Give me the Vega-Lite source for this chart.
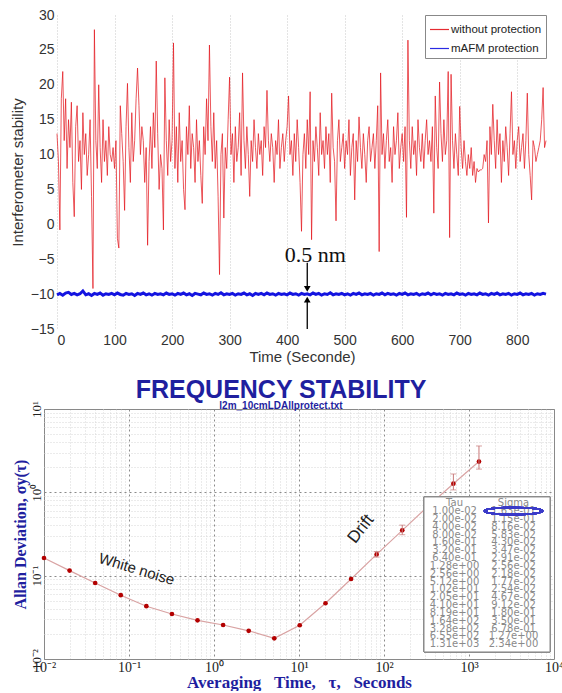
{
"$schema": "https://vega.github.io/schema/vega-lite/v6.json",
"padding": {"left": 10, "top": 8, "right": 0, "bottom": 0},
"background": "white",
"spacing": 13,
"resolve": {"scale": {"color": "independent"}, "legend": {"color": "independent"}},
"config": {
  "view": {"stroke": "#888"},
  "font": "Liberation Sans",
  "axis": {"labelOverlap": false}
},
"datasets": {
"red": [
{"t":0,"v":13},{"t":2.5,"v":9},{"t":5,"v":-0.8},{"t":7.5,"v":18},{"t":10,"v":21.9},{"t":12.5,"v":12},{"t":15,"v":18},{"t":17.5,"v":8},{"t":20,"v":15},{"t":22.5,"v":11},{"t":25,"v":17.5},{"t":27.5,"v":6},{"t":30,"v":1.1},{"t":32.5,"v":14},{"t":35,"v":17},{"t":37.5,"v":9},{"t":40,"v":12},{"t":42.5,"v":5},{"t":45,"v":16},{"t":47.5,"v":10},
{"t":50,"v":13},{"t":52.5,"v":7},{"t":55,"v":10},{"t":57.5,"v":15},{"t":60,"v":4},{"t":62.5,"v":-9.2},{"t":65,"v":27.9},{"t":67.5,"v":12},{"t":70,"v":8},{"t":72.5,"v":20},{"t":75,"v":11},{"t":77.5,"v":6},{"t":80,"v":15},{"t":82.5,"v":9},{"t":85,"v":12},{"t":87.5,"v":7},{"t":90,"v":14},{"t":92.5,"v":10},{"t":95,"v":9},{"t":97.5,"v":11},
{"t":100,"v":8},{"t":102.5,"v":12},{"t":105,"v":-2},{"t":107.5,"v":-3.4},{"t":110,"v":17},{"t":112.5,"v":13},{"t":115,"v":9},{"t":117.5,"v":2},{"t":120,"v":14},{"t":122.5,"v":20.2},{"t":125,"v":11},{"t":127.5,"v":6},{"t":130,"v":16},{"t":132.5,"v":9},{"t":135,"v":12},{"t":137.5,"v":18},{"t":140,"v":22.4},{"t":142.5,"v":17},{"t":145,"v":10},{"t":147.5,"v":14},
{"t":150,"v":12},{"t":152.5,"v":6},{"t":155,"v":11},{"t":157.5,"v":-3},{"t":160,"v":9},{"t":162.5,"v":14},{"t":165,"v":8},{"t":167.5,"v":16},{"t":170,"v":11},{"t":172.5,"v":23.4},{"t":175,"v":13},{"t":177.5,"v":5},{"t":180,"v":10},{"t":182.5,"v":8},{"t":185,"v":-0.8},{"t":187.5,"v":21},{"t":190,"v":12},{"t":192.5,"v":7},{"t":195,"v":15},{"t":197.5,"v":9},
{"t":200,"v":12},{"t":202.5,"v":26},{"t":205,"v":8},{"t":207.5,"v":14},{"t":210,"v":6},{"t":212.5,"v":16},{"t":215,"v":9},{"t":217.5,"v":12},{"t":220,"v":5},{"t":222.5,"v":2.1},{"t":225,"v":14},{"t":227.5,"v":10},{"t":230,"v":17},{"t":232.5,"v":8},{"t":235,"v":13},{"t":237.5,"v":11},{"t":240,"v":6},{"t":242.5,"v":15},{"t":245,"v":9},{"t":247.5,"v":12},
{"t":250,"v":7},{"t":252.5,"v":3},{"t":255,"v":14},{"t":257.5,"v":10},{"t":260,"v":18},{"t":262.5,"v":12},{"t":265,"v":25.7},{"t":267.5,"v":14},{"t":270,"v":9},{"t":272.5,"v":16},{"t":275,"v":8},{"t":277.5,"v":12},{"t":280,"v":4},{"t":282.5,"v":-7.2},{"t":285,"v":10},{"t":287.5,"v":13},{"t":290,"v":0.9},{"t":292.5,"v":11},{"t":295,"v":8},{"t":297.5,"v":15},
{"t":300,"v":21.1},{"t":302.5,"v":10},{"t":305,"v":13},{"t":307.5,"v":6},{"t":310,"v":14},{"t":312.5,"v":9},{"t":315,"v":11},{"t":317.5,"v":16},{"t":320,"v":7},{"t":322.5,"v":21.7},{"t":325,"v":12},{"t":327.5,"v":8},{"t":330,"v":14},{"t":332.5,"v":10},{"t":335,"v":4},{"t":337.5,"v":12},{"t":340,"v":9},{"t":342.5,"v":15},{"t":345,"v":11},{"t":347.5,"v":8},
{"t":350,"v":13},{"t":352.5,"v":10},{"t":355,"v":12},{"t":357.5,"v":7},{"t":360,"v":14},{"t":362.5,"v":11},{"t":365,"v":19.2},{"t":367.5,"v":12},{"t":370,"v":9},{"t":372.5,"v":13},{"t":375,"v":11},{"t":377.5,"v":6},{"t":380,"v":12},{"t":382.5,"v":10},{"t":385,"v":15},{"t":387.5,"v":8},{"t":390,"v":11},{"t":392.5,"v":13},{"t":395,"v":9},{"t":397.5,"v":12},
{"t":400,"v":14},{"t":402.5,"v":18.4},{"t":405,"v":10},{"t":407.5,"v":12},{"t":410,"v":7},{"t":412.5,"v":13},{"t":415,"v":9},{"t":417.5,"v":15},{"t":420,"v":11},{"t":422.5,"v":6},{"t":425,"v":-1},{"t":427.5,"v":10},{"t":430,"v":13},{"t":432.5,"v":8},{"t":435,"v":15},{"t":437.5,"v":10},{"t":440,"v":19},{"t":442.5,"v":-2.2},{"t":445,"v":12},{"t":447.5,"v":9},
{"t":450,"v":14},{"t":452.5,"v":11},{"t":455,"v":7},{"t":457.5,"v":16},{"t":460,"v":10},{"t":462.5,"v":12},{"t":465,"v":8},{"t":467.5,"v":14},{"t":470,"v":10},{"t":472.5,"v":13},{"t":475,"v":6},{"t":477.5,"v":18.8},{"t":480,"v":11},{"t":482.5,"v":9},{"t":485,"v":0.5},{"t":487.5,"v":12},{"t":490,"v":15},{"t":492.5,"v":9},{"t":495,"v":11},{"t":497.5,"v":13},
{"t":500,"v":8},{"t":502.5,"v":12},{"t":505,"v":10},{"t":507.5,"v":15},{"t":510,"v":7},{"t":512.5,"v":11},{"t":515,"v":13},{"t":517.5,"v":3.5},{"t":520,"v":12},{"t":522.5,"v":9},{"t":525,"v":15.4},{"t":527.5,"v":11},{"t":530,"v":8},{"t":532.5,"v":13},{"t":535,"v":10},{"t":537.5,"v":6},{"t":540,"v":12},{"t":542.5,"v":14},{"t":545,"v":9},{"t":547.5,"v":11},
{"t":550,"v":13},{"t":552.5,"v":8},{"t":555,"v":12},{"t":557.5,"v":17},{"t":560,"v":-3.9},{"t":562.5,"v":21.7},{"t":565,"v":10},{"t":567.5,"v":13},{"t":570,"v":8},{"t":572.5,"v":12},{"t":575,"v":15},{"t":577.5,"v":9},{"t":580,"v":11},{"t":582.5,"v":6},{"t":585,"v":14},{"t":587.5,"v":10},{"t":590,"v":12},{"t":592.5,"v":16},{"t":595,"v":8},{"t":597.5,"v":11},
{"t":600,"v":13},{"t":602.5,"v":9},{"t":605,"v":14},{"t":607.5,"v":1},{"t":610,"v":26.4},{"t":612.5,"v":12},{"t":615,"v":8},{"t":617.5,"v":14},{"t":620,"v":10},{"t":622.5,"v":12},{"t":625,"v":7},{"t":627.5,"v":15},{"t":630,"v":11},{"t":632.5,"v":9},{"t":635,"v":13},{"t":637.5,"v":8},{"t":640,"v":12},{"t":642.5,"v":15},{"t":645,"v":10},{"t":647.5,"v":12},
{"t":650,"v":9},{"t":652.5,"v":14},{"t":655,"v":1.6},{"t":657.5,"v":18.4},{"t":660,"v":11},{"t":662.5,"v":8},{"t":665,"v":20.4},{"t":667.5,"v":13},{"t":670,"v":9},{"t":672.5,"v":15},{"t":675,"v":10},{"t":677.5,"v":12},{"t":680,"v":21.9},{"t":682.5,"v":-1.9},{"t":685,"v":21.5},{"t":687.5,"v":12},{"t":690,"v":8},{"t":692.5,"v":13},{"t":695,"v":10},{"t":697.5,"v":7},
{"t":700,"v":16.9},{"t":702.5,"v":11},{"t":705,"v":8},{"t":707.5,"v":12},{"t":710,"v":9},{"t":712.5,"v":7},{"t":715,"v":10},{"t":717.5,"v":8},{"t":720,"v":11},{"t":722.5,"v":7},{"t":725,"v":9},{"t":727.5,"v":6},{"t":730,"v":8},{"t":732.5,"v":7.5},{"t":735,"v":7.8},{"t":737.5,"v":7.8},{"t":740,"v":8},{"t":742.5,"v":10},{"t":745,"v":9},{"t":747.5,"v":12},
{"t":750,"v":0.2},{"t":752.5,"v":14},{"t":755,"v":10},{"t":757.5,"v":17.2},{"t":760,"v":12},{"t":762.5,"v":8},{"t":765,"v":15},{"t":767.5,"v":10},{"t":770,"v":13},{"t":772.5,"v":6},{"t":775,"v":12},{"t":777.5,"v":9},{"t":780,"v":14},{"t":782.5,"v":11},{"t":785,"v":7},{"t":787.5,"v":13},{"t":790,"v":19},{"t":792.5,"v":10},{"t":795,"v":12},{"t":797.5,"v":8},
{"t":800,"v":12},{"t":802.5,"v":14},{"t":805,"v":9},{"t":807.5,"v":11},{"t":810,"v":13},{"t":812.5,"v":8},{"t":815,"v":12},{"t":817.5,"v":18.8},{"t":820,"v":10},{"t":822.5,"v":7},{"t":825,"v":3.5},{"t":827.5,"v":12},{"t":830,"v":11},{"t":832.5,"v":9},{"t":835,"v":10},{"t":837.5,"v":11},{"t":840,"v":12},{"t":842.5,"v":15},{"t":845,"v":19.6},{"t":847.5,"v":11},{"t":850,"v":12}
],
"blue": [
{"t":0,"v":-10.1},{"t":5,"v":-9.9},{"t":10,"v":-10.15},{"t":15,"v":-9.85},{"t":20,"v":-9.75},{"t":25,"v":-10.05},{"t":30,"v":-9.9},{"t":35,"v":-10.1},{"t":40,"v":-9.95},{"t":45,"v":-9.55},{"t":50,"v":-10.1},{"t":55,"v":-9.95},{"t":60,"v":-10.2},{"t":65,"v":-9.9},{"t":70,"v":-10.05},{"t":75,"v":-9.85},{"t":80,"v":-10.15},{"t":85,"v":-9.95},{"t":90,"v":-10.05},{"t":95,"v":-9.9},
{"t":100,"v":-10.1},{"t":105,"v":-9.85},{"t":110,"v":-10.05},{"t":115,"v":-10.15},{"t":120,"v":-9.9},{"t":125,"v":-10.05},{"t":130,"v":-9.95},{"t":135,"v":-10.2},{"t":140,"v":-9.9},{"t":145,"v":-10.05},{"t":150,"v":-9.85},{"t":155,"v":-10.1},{"t":160,"v":-9.95},{"t":165,"v":-10.15},{"t":170,"v":-9.9},{"t":175,"v":-10.05},{"t":180,"v":-9.95},{"t":185,"v":-10.1},{"t":190,"v":-9.85},{"t":195,"v":-10.05},
{"t":200,"v":-9.95},{"t":205,"v":-10.15},{"t":210,"v":-9.9},{"t":215,"v":-10.05},{"t":220,"v":-9.85},{"t":225,"v":-10.1},{"t":230,"v":-9.95},{"t":235,"v":-10.2},{"t":240,"v":-9.9},{"t":245,"v":-10.0},{"t":250,"v":-10.1},{"t":255,"v":-9.85},{"t":260,"v":-10.05},{"t":265,"v":-9.95},{"t":270,"v":-10.15},{"t":275,"v":-9.9},{"t":280,"v":-10.05},{"t":285,"v":-9.8},{"t":290,"v":-10.1},{"t":295,"v":-9.95},
{"t":300,"v":-10.05},{"t":305,"v":-9.9},{"t":310,"v":-10.15},{"t":315,"v":-9.95},{"t":320,"v":-10.05},{"t":325,"v":-9.85},{"t":330,"v":-10.1},{"t":335,"v":-9.95},{"t":340,"v":-10.2},{"t":345,"v":-9.9},{"t":350,"v":-10.05},{"t":355,"v":-9.9},{"t":360,"v":-10.1},{"t":365,"v":-9.85},{"t":370,"v":-10.05},{"t":375,"v":-9.95},{"t":380,"v":-10.15},{"t":385,"v":-9.9},{"t":390,"v":-10.05},{"t":395,"v":-9.95},
{"t":400,"v":-10.1},{"t":405,"v":-9.85},{"t":410,"v":-10.05},{"t":415,"v":-9.95},{"t":420,"v":-10.15},{"t":425,"v":-9.9},{"t":430,"v":-10.05},{"t":435,"v":-9.95},{"t":440,"v":-10.1},{"t":445,"v":-9.85},{"t":450,"v":-10.05},{"t":455,"v":-9.9},{"t":460,"v":-10.15},{"t":465,"v":-9.95},{"t":470,"v":-10.05},{"t":475,"v":-9.8},{"t":480,"v":-10.1},{"t":485,"v":-9.95},{"t":490,"v":-10.05},{"t":495,"v":-9.9},
{"t":500,"v":-10.1},{"t":505,"v":-9.95},{"t":510,"v":-10.15},{"t":515,"v":-9.9},{"t":520,"v":-10.05},{"t":525,"v":-9.85},{"t":530,"v":-10.1},{"t":535,"v":-9.95},{"t":540,"v":-10.05},{"t":545,"v":-9.9},{"t":550,"v":-10.15},{"t":555,"v":-9.95},{"t":560,"v":-10.05},{"t":565,"v":-9.85},{"t":570,"v":-10.1},{"t":575,"v":-9.9},{"t":580,"v":-10.05},{"t":585,"v":-9.95},{"t":590,"v":-10.15},{"t":595,"v":-9.9},
{"t":600,"v":-10.05},{"t":605,"v":-9.85},{"t":610,"v":-10.1},{"t":615,"v":-9.95},{"t":620,"v":-10.05},{"t":625,"v":-9.9},{"t":630,"v":-10.15},{"t":635,"v":-9.95},{"t":640,"v":-10.05},{"t":645,"v":-9.85},{"t":650,"v":-10.1},{"t":655,"v":-9.9},{"t":660,"v":-10.05},{"t":665,"v":-9.95},{"t":670,"v":-10.15},{"t":675,"v":-9.9},{"t":680,"v":-10.05},{"t":685,"v":-9.95},{"t":690,"v":-10.1},{"t":695,"v":-9.85},
{"t":700,"v":-10.05},{"t":705,"v":-9.95},{"t":710,"v":-10.15},{"t":715,"v":-9.9},{"t":720,"v":-10.05},{"t":725,"v":-9.95},{"t":730,"v":-10.1},{"t":735,"v":-9.85},{"t":740,"v":-10.05},{"t":745,"v":-9.95},{"t":750,"v":-10.15},{"t":755,"v":-9.9},{"t":760,"v":-10.05},{"t":765,"v":-9.85},{"t":770,"v":-10.1},{"t":775,"v":-9.95},{"t":780,"v":-10.05},{"t":785,"v":-9.9},{"t":790,"v":-10.15},{"t":795,"v":-9.95},
{"t":800,"v":-10.05},{"t":805,"v":-9.85},{"t":810,"v":-10.1},{"t":815,"v":-9.95},{"t":820,"v":-10.05},{"t":825,"v":-9.9},{"t":830,"v":-10.15},{"t":835,"v":-9.95},{"t":840,"v":-10.05},{"t":845,"v":-9.9},{"t":850,"v":-10.0}
],
"allan": [
{"tau":0.01,"sigma":0.163},{"tau":0.02,"sigma":0.115},{"tau":0.04,"sigma":0.0816},{"tau":0.08,"sigma":0.0583},{"tau":0.16,"sigma":0.043},{"tau":0.32,"sigma":0.0347},{"tau":0.64,"sigma":0.0291},{"tau":1.28,"sigma":0.0256},{"tau":2.56,"sigma":0.0218},{"tau":5.12,"sigma":0.0177},{"tau":10.2,"sigma":0.0254},{"tau":20.5,"sigma":0.0467},{"tau":41,"sigma":0.0912},{"tau":81.9,"sigma":0.18},{"tau":164,"sigma":0.35},{"tau":328,"sigma":0.678},{"tau":655,"sigma":1.27},{"tau":1310,"sigma":2.34}
],
"errs": [
{"tau":81.9,"lo":0.167,"hi":0.195},{"tau":164,"lo":0.31,"hi":0.404},{"tau":328,"lo":0.6,"hi":0.77},{"tau":655,"lo":1.07,"hi":1.66},{"tau":1310,"lo":1.9,"hi":3.6}
],
"table": [
{"r":-1,"tau":"Tau","sig":"Sigma"},
{"r":0,"tau":"1.00e-02","sig":"1.63e-01"},{"r":1,"tau":"2.00e-02","sig":"1.15e-01"},{"r":2,"tau":"4.00e-02","sig":"8.16e-02"},{"r":3,"tau":"8.00e-02","sig":"5.83e-02"},{"r":4,"tau":"1.60e-01","sig":"4.30e-02"},{"r":5,"tau":"3.20e-01","sig":"3.47e-02"},{"r":6,"tau":"6.40e-01","sig":"2.91e-02"},{"r":7,"tau":"1.28e+00","sig":"2.56e-02"},{"r":8,"tau":"2.56e+00","sig":"2.18e-02"},{"r":9,"tau":"5.12e+00","sig":"1.77e-02"},{"r":10,"tau":"1.02e+01","sig":"2.54e-02"},{"r":11,"tau":"2.05e+01","sig":"4.67e-02"},{"r":12,"tau":"4.10e+01","sig":"9.12e-02"},{"r":13,"tau":"8.19e+01","sig":"1.80e-01"},{"r":14,"tau":"1.64e+02","sig":"3.50e-01"},{"r":15,"tau":"3.28e+02","sig":"6.78e-01"},{"r":16,"tau":"6.55e+02","sig":"1.27e+00"},{"r":17,"tau":"1.31e+03","sig":"2.34e+00"}
]
},
"vconcat": [
{
  "width": 502, "height": 314,
  "view": {"stroke": null},
  "layer": [
    {"mark": {"type": "rule", "color": "#c8c8c8", "strokeDash": [1, 2]}, "encoding": {"x": {"datum": 0, "type": "quantitative"}, "x2": {"datum": 850}, "y": {"datum": -10, "type": "quantitative"}}},
    {"mark": {"type": "rule", "color": "#c8c8c8", "strokeDash": [1, 2]}, "encoding": {"x": {"datum": 0, "type": "quantitative"}, "x2": {"datum": 850}, "y": {"datum": -5, "type": "quantitative"}}},
    {"mark": {"type": "rule", "color": "#c8c8c8", "strokeDash": [1, 2]}, "encoding": {"x": {"datum": 0, "type": "quantitative"}, "x2": {"datum": 850}, "y": {"datum": 0, "type": "quantitative"}}},
    {"mark": {"type": "rule", "color": "#c8c8c8", "strokeDash": [1, 2]}, "encoding": {"x": {"datum": 0, "type": "quantitative"}, "x2": {"datum": 850}, "y": {"datum": 5, "type": "quantitative"}}},
    {"mark": {"type": "rule", "color": "#c8c8c8", "strokeDash": [1, 2]}, "encoding": {"x": {"datum": 0, "type": "quantitative"}, "x2": {"datum": 850}, "y": {"datum": 10, "type": "quantitative"}}},
    {"mark": {"type": "rule", "color": "#c8c8c8", "strokeDash": [1, 2]}, "encoding": {"x": {"datum": 0, "type": "quantitative"}, "x2": {"datum": 850}, "y": {"datum": 15, "type": "quantitative"}}},
    {"mark": {"type": "rule", "color": "#c8c8c8", "strokeDash": [1, 2]}, "encoding": {"x": {"datum": 0, "type": "quantitative"}, "x2": {"datum": 850}, "y": {"datum": 20, "type": "quantitative"}}},
    {"mark": {"type": "rule", "color": "#c8c8c8", "strokeDash": [1, 2]}, "encoding": {"x": {"datum": 0, "type": "quantitative"}, "x2": {"datum": 850}, "y": {"datum": 25, "type": "quantitative"}}},
    {
      "data": {"name": "red"},
      "mark": {"type": "line", "strokeWidth": 0.8, "opacity": 0.9},
      "encoding": {
        "x": {"field": "t", "type": "quantitative", "scale": {"domain": [0, 850], "nice": false, "range": [13, 502]},
              "axis": {"values": [0,100,200,300,400,500,600,700,800], "title": "Time (Seconde)", "grid": true, "gridColor": "#c8c8c8", "gridDash": [1,2], "ticks": false, "domain": false, "labelOverlap": false, "labelFontSize": 14, "labelColor": "#333", "labelPadding": 4, "titleFontSize": 15, "titleFontWeight": "normal", "titleColor": "#333", "titlePadding": 2, "titleX": 258}},
        "y": {"field": "v", "type": "quantitative", "scale": {"domain": [-15, 30], "nice": false, "zero": false},
              "axis": {"tickCount": 9, "offset": -13, "title": "Interferometer stability", "grid": false, "ticks": false, "domain": false, "labelOverlap": false, "labelFontSize": 14, "labelColor": "#333", "labelPadding": 3, "titleFontSize": 15, "titleFontWeight": "normal", "titleColor": "#333", "titlePadding": 5}},
        "color": {"datum": "without protection", "type": "nominal",
                  "scale": {"domain": ["without protection", "mAFM protection"], "range": ["#e3151c", "#1414e0"]},
                  "legend": {"title": null, "orient": "top-right", "offset": 0, "padding": 4, "strokeColor": "#888", "fillColor": "white", "labelFontSize": 11.5, "labelColor": "#222", "symbolSize": 360, "symbolStrokeWidth": 1.2, "rowPadding": 3, "labelOffset": 1}}
      }
    },
    {
      "data": {"name": "blue"},
      "mark": {"type": "line", "strokeWidth": 3},
      "encoding": {
        "x": {"field": "t", "type": "quantitative"},
        "y": {"field": "v", "type": "quantitative"},
        "color": {"datum": "mAFM protection", "type": "nominal"}
      }
    },
    {
      "mark": {"type": "rect", "filled": false, "stroke": "#888", "strokeWidth": 1},
      "encoding": {"x": {"datum": 0, "type": "quantitative"}, "x2": {"datum": 850}, "y": {"datum": -15, "type": "quantitative"}, "y2": {"datum": 30}}
    },
    {
      "data": {"values": [{"t": 435, "a": -5.5, "b": -9.0}, {"t": 435, "a": -15, "b": -11.1}]},
      "mark": {"type": "rule", "color": "black", "strokeWidth": 1.3},
      "encoding": {
        "x": {"field": "t", "type": "quantitative"},
        "y": {"field": "a", "type": "quantitative"},
        "y2": {"field": "b"}
      }
    },
    {
      "data": {"values": [{"t": 435, "v": -9.25}]},
      "mark": {"type": "point", "shape": "triangle-down", "filled": true, "color": "black", "size": 45, "opacity": 1},
      "encoding": {"x": {"field": "t", "type": "quantitative"}, "y": {"field": "v", "type": "quantitative"}}
    },
    {
      "data": {"values": [{"t": 435, "v": -10.8}]},
      "mark": {"type": "point", "shape": "triangle-up", "filled": true, "color": "black", "size": 45, "opacity": 1},
      "encoding": {"x": {"field": "t", "type": "quantitative"}, "y": {"field": "v", "type": "quantitative"}}
    },
    {
      "data": {"values": [{"t": 449, "v": -4.4, "label": "0.5 nm"}]},
      "mark": {"type": "text", "font": "Liberation Serif", "fontSize": 22, "color": "#111"},
      "encoding": {"x": {"field": "t", "type": "quantitative"}, "y": {"field": "v", "type": "quantitative"}, "text": {"field": "label"}}
    }
  ]
},
{
  "width": 510, "height": 250,
  "title": {"text": "FREQUENCY STABILITY", "subtitle": "l2m_10cmLDAllprotect.txt", "font": "Liberation Sans", "fontSize": 25, "fontWeight": "bold", "color": "#1f1f9f", "subtitleFont": "Liberation Sans", "subtitleFontSize": 10, "subtitleFontWeight": "bold", "subtitleColor": "#1f1f9f", "offset": -10, "subtitlePadding": -2, "dx": -18},
  "layer": [
    {
      "layer": [
        {
          "data": {"name": "allan"},
          "mark": {"type": "line", "color": "#d9a3a3", "strokeWidth": 1.2},
          "encoding": {
            "x": {"field": "tau", "type": "quantitative", "scale": {"type": "log", "domain": [0.01, 10000], "nice": false},
                  "axis": {"values": [0.01,0.02,0.03,0.04,0.05,0.06,0.07,0.08,0.09,0.1,0.2,0.3,0.4,0.5,0.6,0.7,0.8,0.9,1,2,3,4,5,6,7,8,9,10,20,30,40,50,60,70,80,90,100,200,300,400,500,600,700,800,900,1000,2000,3000,4000,5000,6000,7000,8000,9000,10000],
                           "grid": true,
                           "gridColor": {"condition": {"test": "abs(log(datum.value)/LN10 - round(log(datum.value)/LN10)) < 0.01", "value": "#8a8a8a"}, "value": "#d6d6d6"},
                           "gridDash": {"condition": {"test": "abs(log(datum.value)/LN10 - round(log(datum.value)/LN10)) < 0.01", "value": [2, 3]}, "value": [1, 2]},
                           "ticks": false, "domain": false, "labelOverlap": false,
                           "labelExpr": "abs(log(datum.value)/LN10 - round(log(datum.value)/LN10)) > 0.01 ? '' : round(log(datum.value)/LN10) == -2 ? '10⁻²' : round(log(datum.value)/LN10) == -1 ? '10⁻¹' : round(log(datum.value)/LN10) == 0 ? '10⁰' : round(log(datum.value)/LN10) == 1 ? '10¹' : round(log(datum.value)/LN10) == 2 ? '10²' : round(log(datum.value)/LN10) == 3 ? '10³' : '10⁴'",
                           "labelFont": "Liberation Serif", "labelFontSize": 14, "labelColor": "#222", "labelPadding": 1, "labelFlush": false,
                           "title": "Averaging\u00a0\u00a0\u00a0Time,\u00a0\u00a0\u00a0τ,\u00a0\u00a0\u00a0Seconds", "titleFont": "Liberation Serif", "titleFontSize": 17, "titleFontWeight": "bold", "titleColor": "#1f1f9f", "titlePadding": 0}},
            "y": {"field": "sigma", "type": "quantitative", "scale": {"type": "log", "domain": [0.01, 10], "nice": false},
                  "axis": {"values": [0.01,0.02,0.03,0.04,0.05,0.06,0.07,0.08,0.09,0.1,0.2,0.3,0.4,0.5,0.6,0.7,0.8,0.9,1,2,3,4,5,6,7,8,9,10],
                           "grid": true,
                           "gridColor": {"condition": {"test": "abs(log(datum.value)/LN10 - round(log(datum.value)/LN10)) < 0.01", "value": "#8a8a8a"}, "value": "#d6d6d6"},
                           "gridDash": {"condition": {"test": "abs(log(datum.value)/LN10 - round(log(datum.value)/LN10)) < 0.01", "value": [2, 3]}, "value": [1, 2]},
                           "ticks": false, "domain": false, "labelOverlap": false,
                           "labelExpr": "abs(log(datum.value)/LN10 - round(log(datum.value)/LN10)) > 0.01 ? '' : round(log(datum.value)/LN10) == -2 ? '10⁻²' : round(log(datum.value)/LN10) == -1 ? '10⁻¹' : round(log(datum.value)/LN10) == 0 ? '10⁰' : '10¹'",
                           "labelFont": "Liberation Serif", "labelFontSize": 13, "labelColor": "#222", "labelAngle": -90, "labelAlign": "center", "labelBaseline": "bottom", "labelPadding": 1, "labelFlush": false,
                           "title": "Allan Deviation, σy(τ)", "titleFont": "Liberation Serif", "titleFontSize": 16, "titleFontWeight": "bold", "titleColor": "#1f1f9f", "titlePadding": 2}}
          }
        },
        {
          "data": {"name": "allan"},
          "mark": {"type": "point", "filled": true, "color": "#b30000", "size": 22, "opacity": 1},
          "encoding": {
            "x": {"field": "tau", "type": "quantitative"},
            "y": {"field": "sigma", "type": "quantitative"}
          }
        },
        {
          "data": {"name": "errs"},
          "mark": {"type": "rule", "color": "#c87878", "strokeWidth": 1},
          "encoding": {
            "x": {"field": "tau", "type": "quantitative"},
            "y": {"field": "lo", "type": "quantitative"},
            "y2": {"field": "hi"}
          }
        },
        {
          "data": {"name": "errs"},
          "mark": {"type": "tick", "orient": "horizontal", "color": "#c87878", "size": 6, "thickness": 1},
          "encoding": {
            "x": {"field": "tau", "type": "quantitative"},
            "y": {"field": "lo", "type": "quantitative"}
          }
        },
        {
          "data": {"name": "errs"},
          "mark": {"type": "tick", "orient": "horizontal", "color": "#c87878", "size": 6, "thickness": 1},
          "encoding": {
            "x": {"field": "tau", "type": "quantitative"},
            "y": {"field": "hi", "type": "quantitative"}
          }
        },
        {
          "data": {"values": [{"tau": 0.123, "sigma": 0.12, "label": "White noise"}]},
          "mark": {"type": "text", "angle": 17, "fontSize": 15, "color": "#222", "font": "Liberation Sans"},
          "encoding": {
            "x": {"field": "tau", "type": "quantitative"},
            "y": {"field": "sigma", "type": "quantitative"},
            "text": {"field": "label"}
          }
        },
        {
          "data": {"values": [{"tau": 53.5, "sigma": 0.363, "label": "Drift"}]},
          "mark": {"type": "text", "angle": -52, "fontSize": 17, "color": "#222", "font": "Liberation Sans"},
          "encoding": {
            "x": {"field": "tau", "type": "quantitative"},
            "y": {"field": "sigma", "type": "quantitative"},
            "text": {"field": "label"}
          }
        }
      ]
    },
    {
      "data": {"name": "table"},
      "layer": [
        {
          "mark": {"type": "rect", "fill": "white", "stroke": "#8c8c8c", "strokeWidth": 1},
          "encoding": {
            "x": {"datum": -0.517, "type": "quantitative", "scale": {"domain": [-6.958, 1.686], "nice": false, "zero": false}, "axis": null},
            "x2": {"datum": 1.618},
            "y": {"datum": -1.79, "type": "quantitative", "scale": {"domain": [-13.01, 18.88], "nice": false, "zero": false, "reverse": true}, "axis": null},
            "y2": {"datum": 17.98}
          }
        },
        {
          "mark": {"type": "text", "font": "DejaVu Sans", "fontSize": 10, "color": "#8a8a8a"},
          "encoding": {
            "x": {"datum": 0, "type": "quantitative"},
            "y": {"field": "r", "type": "quantitative"},
            "text": {"field": "tau"}
          }
        },
        {
          "mark": {"type": "text", "font": "DejaVu Sans", "fontSize": 10, "color": "#8a8a8a"},
          "encoding": {
            "x": {"datum": 1, "type": "quantitative"},
            "y": {"field": "r", "type": "quantitative"},
            "text": {"field": "sig"}
          }
        },
        {
          "mark": {"type": "point", "shape": "M-1,0A1,0.12 0 1,0 1,0A1,0.12 0 1,0 -1,0Z", "filled": false, "stroke": "#3b3bc8", "strokeWidth": 1.6, "size": 3364, "opacity": 1},
          "encoding": {
            "x": {"datum": 1, "type": "quantitative"},
            "y": {"datum": 0, "type": "quantitative"}
          }
        }
      ]
    }
  ],
  "resolve": {"scale": {"x": "independent", "y": "independent"}, "axis": {"x": "independent", "y": "independent"}}
}
]
}
